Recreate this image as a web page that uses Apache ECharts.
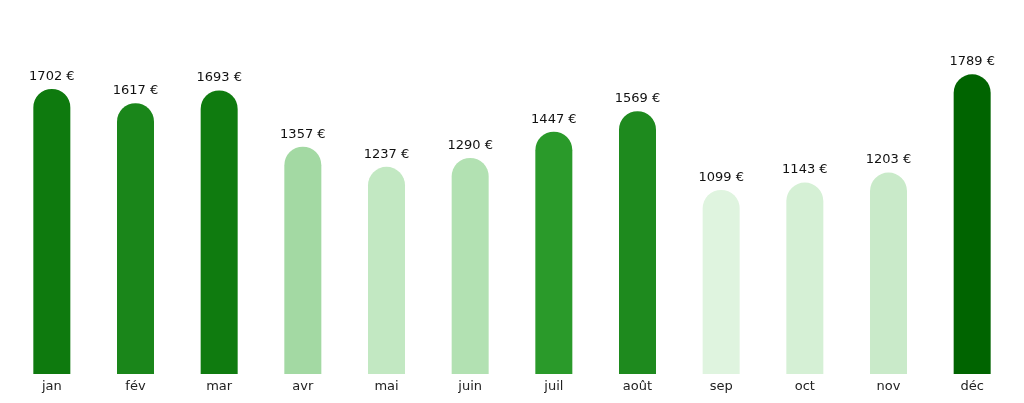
<!DOCTYPE html>
<html><head><meta charset="utf-8">
<script src="https://cdn.jsdelivr.net/npm/echarts@6/dist/echarts.min.js"></script>
<style>html,body{margin:0;padding:0;background:#fff}#c{width:1024px;height:403px}</style>
</head><body><div id="c"></div>
<script>
const categories = ['jan','fév','mar','avr','mai','juin','juil','août','sep','oct','nov','déc'];
const values = [1702,1617,1693,1357,1237,1290,1447,1569,1099,1143,1203,1789];
const barColors = ['#0e7a0e','#1a861a','#0f7b0f','#a3d9a3','#c2e8c2','#b2e1b2','#2a9a2a','#1e8a1e','#dff4df','#d5f0d5','#c9eac9','#006400'];
const chart = echarts.init(document.getElementById('c'));
chart.setOption({
  animation:false,
  grid:{left:10,right:10,top:39,bottom:29},
  xAxis:{type:'category',data:categories,axisLine:{show:false},axisTick:{show:false},
    axisLabel:{color:'#222',fontSize:13,fontFamily:'DejaVu Sans',margin:6}},
  yAxis:{type:'value',min:0,max:2000,show:false,splitLine:{show:false}},
  series:[{type:'bar',barWidth:37,
    data:values.map((v,i)=>({value:v,itemStyle:{color:barColors[i]}})),
    itemStyle:{borderRadius:[18.5,18.5,0,0]},
    label:{show:true,position:'top',distance:6,formatter:'{c} €',color:'#111',fontSize:13,fontFamily:'DejaVu Sans'}}]
});
</script></body></html>
